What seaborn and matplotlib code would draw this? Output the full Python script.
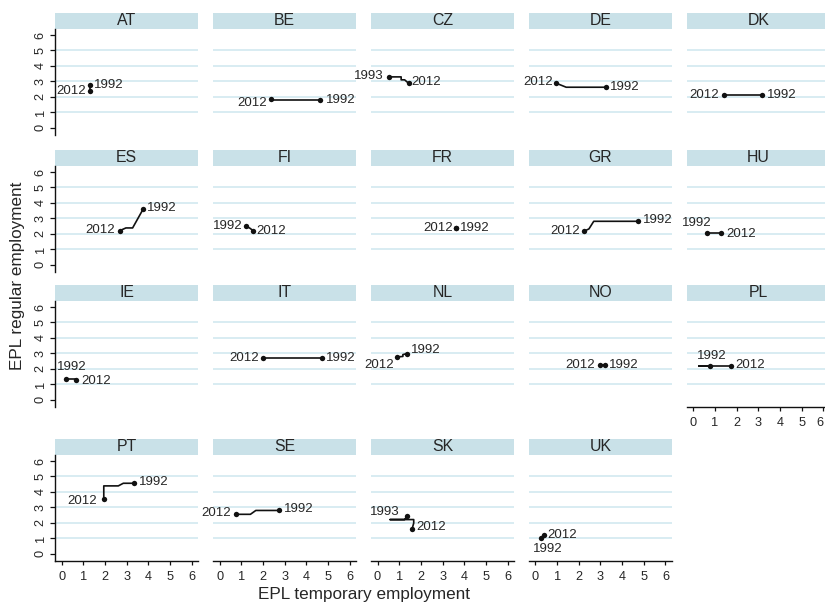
import matplotlib
matplotlib.use("Agg")
import matplotlib.pyplot as plt
import pandas as pd
import seaborn as sns
from matplotlib.patches import Rectangle

# Panel order (5 columns, filled row by row)
countries = ["AT", "BE", "CZ", "DE", "DK",
             "ES", "FI", "FR", "GR", "HU",
             "IE", "IT", "NL", "NO", "PL",
             "PT", "SE", "SK", "UK"]
start_years = [1992, 1992, 1993, 1992, 1992,
               1992, 1992, 1992, 1992, 1992,
               1992, 1992, 1992, 1992, 1992,
               1992, 1992, 1993, 1992]
end_year = 2012

# EPL trajectories from the first year to 2012: temporary (x) and regular (y)
at_temp = [1.31, 1.31]
at_reg = [2.77, 2.37]
be_temp = [4.63, 2.38, 2.38]
be_reg = [1.79, 1.79, 1.86]
cz_temp = [0.51, 1.09, 1.09, 1.25, 1.43]
cz_reg = [3.29, 3.29, 3.10, 3.10, 2.88]
de_temp = [3.24, 1.42, 0.96]
de_reg = [2.62, 2.62, 2.88]
dk_temp = [3.18, 1.40]
dk_reg = [2.14, 2.14]
es_temp = [3.76, 3.27, 2.96, 2.69]
es_reg = [3.61, 2.38, 2.38, 2.21]
fi_temp = [1.23, 1.40, 1.54]
fi_reg = [2.49, 2.36, 2.21]
fr_temp = [3.61, 3.61]
fr_reg = [2.38, 2.38]
gr_temp = [4.74, 2.69, 2.47, 2.24]
gr_reg = [2.81, 2.81, 2.32, 2.16]
hu_temp = [0.63, 1.28]
hu_reg = [2.03, 2.03]
ie_temp = [0.22, 0.68, 0.68]
ie_reg = [1.36, 1.36, 1.30]
it_temp = [4.74, 2.00]
it_reg = [2.70, 2.70]
nl_temp = [1.37, 1.17, 1.17, 0.91]
nl_reg = [2.99, 2.92, 2.80, 2.77]
no_temp = [3.19, 2.96]
no_reg = [2.27, 2.27]
pl_temp = [0.79, 0.25, 1.76]
pl_reg = [2.16, 2.16, 2.16]
pt_temp = [3.35, 2.84, 2.61, 1.94, 1.94]
pt_reg = [4.56, 4.56, 4.39, 4.39, 3.51]
se_temp = [2.75, 1.67, 1.42, 0.77]
se_reg = [2.80, 2.80, 2.55, 2.55]
sk_temp = [1.37, 1.25, 0.58, 1.67, 1.67, 1.60]
sk_reg = [2.44, 2.21, 2.21, 2.21, 1.98, 1.63]
uk_temp = [0.26, 0.38]
uk_reg = [1.03, 1.20]

paths = {
    "AT": (at_temp, at_reg), "BE": (be_temp, be_reg), "CZ": (cz_temp, cz_reg),
    "DE": (de_temp, de_reg), "DK": (dk_temp, dk_reg), "ES": (es_temp, es_reg),
    "FI": (fi_temp, fi_reg), "FR": (fr_temp, fr_reg), "GR": (gr_temp, gr_reg),
    "HU": (hu_temp, hu_reg), "IE": (ie_temp, ie_reg), "IT": (it_temp, it_reg),
    "NL": (nl_temp, nl_reg), "NO": (no_temp, no_reg), "PL": (pl_temp, pl_reg),
    "PT": (pt_temp, pt_reg), "SE": (se_temp, se_reg), "SK": (sk_temp, sk_reg),
    "UK": (uk_temp, uk_reg),
}

# Marker-label placement (pixel offsets dx, dy and alignment) for first / last year
R = "left", "center"
L = "right", "center"
label_place = {
    "AT": [(4, 0, *R), (-4.5, 0, *L)],
    "BE": [(6, 0, *R), (-4, -4, *L)],
    "CZ": [(-4.5, 1, *L), (3, 1, *R)],
    "DE": [(4.5, 0, *R), (-3.5, 1, *L)],
    "DK": [(4.3, 0, *R), (-5, 0, *L)],
    "ES": [(4, 0.5, *R), (-5, 1, *L)],
    "FI": [(-3.5, 0.5, *L), (3.5, 0, *R)],
    "FR": [(4, 0, *R), (-3, 0, *L)],
    "GR": [(5, 1.5, *R), (-4.5, 0.5, *L)],
    "HU": [(5, 4.5, "right", "bottom"), (5, -1, *R)],
    "IE": [(-10, 5.5, "left", "bottom"), (4.5, -1, *R)],
    "IT": [(4, 0, *R), (-4, 0, *L)],
    "NL": [(3.5, 3.5, *R), (-3, -2.5, "right", "top")],
    "NO": [(4.5, 0, *R), (-5, 0, *L)],
    "PL": [(1, 4, "center", "bottom"), (4, 1.5, *R)],
    "PT": [(5, 1.5, *R), (-6.5, -2, *L)],
    "SE": [(5, 1.5, *R), (-5, 1.5, *L)],
    "SK": [(-8, 4, *L), (4.5, 2, *R)],
    "UK": [(-8.5, -5, "left", "top"), (3.3, 0, *R)],
}

sns.set_theme(style="white")
plt.rcParams["font.family"] = ["Liberation Sans", "DejaVu Sans"]

W, H = 825, 603
fig = plt.figure(figsize=(W / 100, H / 100), dpi=100)

PX = 72 / 100  # points per pixel
col_left = [55 + 157.9 * i for i in range(5)]
panel_w = 143.3
row_top = [29, 166, 301, 455]
panel_h = 105.5
header_h = 16.3
header_color = "#c9e1e8"
grid_color = "#d6ebf1"
text_color = "#262626"

XLIM = (-0.31, 6.30)
YLIM = (-0.44, 6.39)
ticks = [0, 1, 2, 3, 4, 5, 6]
x_axis_panels = {"PL", "PT", "SE", "SK", "UK"}

for i, (country, y0) in enumerate(zip(countries, start_years)):
    r, c = divmod(i, 5)
    left = col_left[c] / W
    bottom = 1 - (row_top[r] + panel_h) / H
    ax = fig.add_axes([left, bottom, panel_w / W, panel_h / H])
    ax.set_facecolor("white")

    temp, reg = paths[country]
    df = pd.DataFrame({"temp": temp, "reg": reg, "step": range(len(temp))})

    for g in [1, 2, 3, 4, 5]:
        ax.axhline(g, color=grid_color, lw=1.3, zorder=0)

    sns.lineplot(data=df, x="temp", y="reg", sort=False, estimator=None,
                 color="#111111", lw=1.2, ax=ax, zorder=3)
    ends = df.iloc[[0, -1]]
    sns.scatterplot(data=ends, x="temp", y="reg", color="#111111", s=15,
                    linewidth=0, ax=ax, zorder=4)

    for (dx, dy, ha, va), yr, (_, row) in zip(label_place[country], [y0, end_year],
                                              ends.iterrows()):
        ax.annotate(str(yr), (row["temp"], row["reg"]),
                    xytext=(dx * PX, dy * PX), textcoords="offset points",
                    ha=ha, va=va, fontsize=9.5, color=text_color,
                    annotation_clip=False, zorder=5)

    ax.set_xlim(*XLIM)
    ax.set_ylim(*YLIM)
    ax.set_xlabel("")
    ax.set_ylabel("")
    for s in ax.spines.values():
        s.set_visible(False)

    if c == 0:
        ax.spines["left"].set_visible(True)
        ax.spines["left"].set_color("#111111")
        ax.spines["left"].set_linewidth(1.0)
        ax.set_yticks(ticks)
        ax.set_yticklabels([str(t) for t in ticks], rotation=90, va="center")
        ax.tick_params(axis="y", left=True, direction="out", length=3.6,
                       width=0.9, color="#111111", pad=2.5,
                       labelsize=9.2, labelcolor=text_color)
    else:
        ax.set_yticks([])

    if country in x_axis_panels:
        ax.spines["bottom"].set_visible(True)
        ax.spines["bottom"].set_color("#111111")
        ax.spines["bottom"].set_linewidth(1.0)
        ax.set_xticks(ticks)
        ax.set_xticklabels([str(t) for t in ticks])
        ax.tick_params(axis="x", bottom=True, direction="out", length=3.2,
                       width=0.9, color="#111111", pad=4.5,
                       labelsize=9.2, labelcolor=text_color)
        if c == 4:
            # rightmost column runs to the figure edge: keep the last label inside
            ax.get_xticklabels()[-1].set_horizontalalignment("right")
    else:
        ax.set_xticks([])

    hf = header_h / panel_h
    ax.add_patch(Rectangle((0, 1), 1, hf, transform=ax.transAxes,
                           facecolor=header_color, edgecolor="none",
                           clip_on=False, zorder=1))
    ax.text(0.5, 1 + hf / 2, country, transform=ax.transAxes, ha="center",
            va="center", fontsize=11.4, color=text_color)

fig.text(364.5 / W, 1 - 598.5 / H, "EPL temporary employment", ha="center",
         va="baseline", fontsize=12.3, color=text_color)
fig.text(18 / W, 1 - 276 / H, "EPL regular employment", ha="center",
         va="center", rotation=90, fontsize=12.3, color=text_color)

fig.savefig("out.png", dpi=100, facecolor="white")
